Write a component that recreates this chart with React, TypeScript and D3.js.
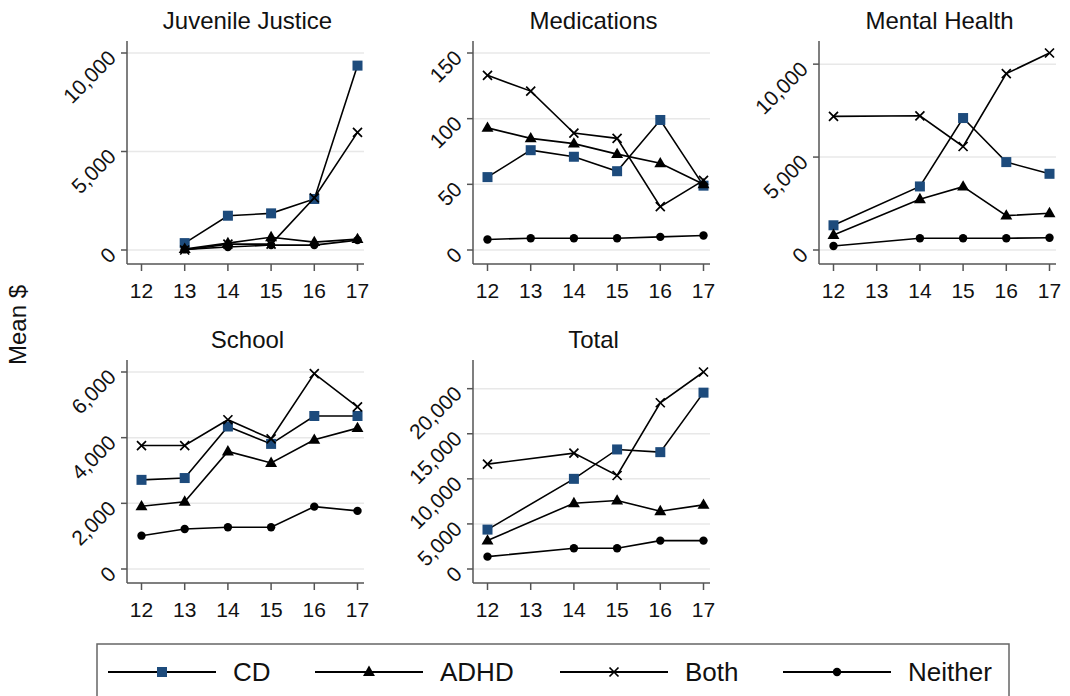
import { useEffect, useRef } from "react";
import * as d3 from "d3";

// ages on the x axis
const ages = [12, 13, 14, 15, 16, 17];
const seriesNames = ["CD", "ADHD", "Both", "Neither"];

// Juvenile Justice
const jjCD = [null, 350, 1740, 1860, 2590, 9360];
const jjADHD = [null, 50, 350, 650, 400, 550];
const jjBoth = [null, 0, 300, 300, 2650, 5970];
const jjNeither = [null, 30, 150, 250, 250, 500];
const jjTicks = [0, 5000, 10000];

// Medications
const medCD = [55.5, 76, 71, 60, 99, 49];
const medADHD = [93, 85, 81, 73, 66, 50];
const medBoth = [133, 121, 89, 85, 33, 53];
const medNeither = [8, 9, 9, 9, 10, 11];
const medTicks = [0, 50, 100, 150];

// Mental Health (no age 13 values)
const mhCD = [1330, null, 3420, 7100, 4730, 4100];
const mhADHD = [810, null, 2730, 3410, 1850, 1980];
const mhBoth = [7190, null, 7220, 5570, 9490, 10600];
const mhNeither = [215, null, 630, 630, 630, 660];
const mhTicks = [0, 5000, 10000];

// School
const scCD = [2715, 2770, 4340, 3810, 4660, 4660];
const scADHD = [1910, 2050, 3580, 3230, 3935, 4290];
const scBoth = [3760, 3760, 4545, 3965, 5950, 4940];
const scNeither = [1015, 1220, 1270, 1270, 1900, 1770];
const scTicks = [0, 2000, 4000, 6000];

// Total (no age 13 values)
const totCD = [4370, null, 10000, 13260, 12960, 19560];
const totADHD = [3150, null, 7300, 7590, 6410, 7110];
const totBoth = [11630, null, 12850, 10370, 18440, 21850];
const totNeither = [1370, null, 2300, 2300, 3150, 3150];
const totTicks = [0, 5000, 10000, 15000, 20000];

const panels = [
    { title: "Juvenile Justice", series: [jjCD, jjADHD, jjBoth, jjNeither], ticks: jjTicks, col: 0, row: 0 },
    { title: "Medications", series: [medCD, medADHD, medBoth, medNeither], ticks: medTicks, col: 1, row: 0 },
    { title: "Mental Health", series: [mhCD, mhADHD, mhBoth, mhNeither], ticks: mhTicks, col: 2, row: 0 },
    { title: "School", series: [scCD, scADHD, scBoth, scNeither], ticks: scTicks, col: 0, row: 1 },
    { title: "Total", series: [totCD, totADHD, totBoth, totNeither], ticks: totTicks, col: 1, row: 1 },
];

const FONT = "'Liberation Sans', Arial, Helvetica, sans-serif";
const BLUE = "#1d4b7c";

const App = () => {
    const chartRef = useRef<SVGSVGElement>(null);

    useEffect(() => {
        const svg = d3.select(chartRef.current);
        svg.selectAll("*").remove();

        const width = 1070;
        const height = 696;
        const colLeft = [127, 473, 819];
        const rowTop = [41, 360];
        const plotW = 237;
        const plotH = 223;

        svg.attr("width", width).attr("height", height).style("font-family", FONT);
        svg.append("rect").attr("width", width).attr("height", height).attr("fill", "#fff");

        // draws a marker of a series at (x, y)
        const drawMarker = (g, kind, x, y) => {
            if (kind === 0) {
                g.append("rect").attr("x", x - 5).attr("y", y - 5).attr("width", 10).attr("height", 10)
                    .attr("fill", BLUE);
            } else if (kind === 1) {
                g.append("path").attr("d", d3.symbol(d3.symbolTriangle, 62)()).attr("transform", `translate(${x},${y + 0.5})`)
                    .attr("fill", "#000");
            } else if (kind === 2) {
                g.append("path").attr("d", `M${x - 4.5},${y - 4.5}L${x + 4.5},${y + 4.5}M${x - 4.5},${y + 4.5}L${x + 4.5},${y - 4.5}`)
                    .attr("stroke", "#000").attr("stroke-width", 1.7);
            } else {
                g.append("circle").attr("cx", x).attr("cy", y).attr("r", 4.2).attr("fill", "#000");
            }
        };

        panels.forEach((p) => {
            const left = colLeft[p.col];
            const top = rowTop[p.row];
            const bottom = top + plotH;
            const g = svg.append("g");

            const maxVal = d3.max(p.series.flat().filter((v) => v != null));
            const yMax = Math.max(maxVal, p.ticks[p.ticks.length - 1]);

            const x = d3.scaleLinear().domain([12, 17]).range([left + 14.5, left + 230.5]);
            const y = d3.scaleLinear().domain([0, yMax]).range([bottom - 14, top + 12]);

            // grid lines
            g.selectAll("line.grid").data(p.ticks).enter().append("line")
                .attr("x1", left).attr("x2", left + plotW)
                .attr("y1", (d) => y(d)).attr("y2", (d) => y(d))
                .attr("stroke", "#e8e8e8").attr("stroke-width", 1.5);

            // axes
            g.append("line").attr("x1", left).attr("x2", left).attr("y1", top).attr("y2", bottom)
                .attr("stroke", "#555").attr("stroke-width", 1.5);
            g.append("line").attr("x1", left).attr("x2", left + plotW).attr("y1", bottom).attr("y2", bottom)
                .attr("stroke", "#555").attr("stroke-width", 1.5);

            // y ticks
            g.selectAll("line.yt").data(p.ticks).enter().append("line")
                .attr("x1", left - 6).attr("x2", left)
                .attr("y1", (d) => y(d)).attr("y2", (d) => y(d))
                .attr("stroke", "#555").attr("stroke-width", 1.5);
            g.selectAll("text.yt").data(p.ticks).enter().append("text")
                .attr("transform", (d) => `translate(${left - 15},${y(d) + 1}) rotate(-45)`)
                .attr("text-anchor", "end").attr("dominant-baseline", "central")
                .attr("font-size", 21).attr("fill", "#111")
                .text((d) => d3.format(",")(d));

            // x ticks
            g.selectAll("line.xt").data(ages).enter().append("line")
                .attr("x1", (d) => x(d)).attr("x2", (d) => x(d))
                .attr("y1", bottom).attr("y2", bottom + 7)
                .attr("stroke", "#555").attr("stroke-width", 1.5);
            g.selectAll("text.xt").data(ages).enter().append("text")
                .attr("x", (d) => x(d)).attr("y", bottom + 34)
                .attr("text-anchor", "middle").attr("font-size", 21).attr("fill", "#111")
                .text((d) => d);

            // title
            g.append("text").attr("x", left + plotW / 2 + 2).attr("y", top - 12)
                .attr("text-anchor", "middle").attr("font-size", 24).attr("fill", "#111")
                .text(p.title);

            // series lines and markers
            const line = d3.line().x((d) => x(d[0])).y((d) => y(d[1]));
            p.series.forEach((vals, si) => {
                const pts = ages.map((a, i) => [a, vals[i]]).filter((d) => d[1] != null);
                g.append("path").attr("d", line(pts)).attr("fill", "none")
                    .attr("stroke", "#000").attr("stroke-width", 1.6);
                pts.forEach((d) => drawMarker(g, si, x(d[0]), y(d[1])));
            });
        });

        // y axis label
        svg.append("text").attr("transform", "translate(26,325) rotate(-90)")
            .attr("text-anchor", "middle").attr("font-size", 24).attr("fill", "#111")
            .text("Mean $");

        // legend
        const lg = svg.append("g");
        lg.append("rect").attr("x", 97).attr("y", 644).attr("width", 912).attr("height", 70)
            .attr("fill", "none").attr("stroke", "#666").attr("stroke-width", 1.5);
        const legendX = [108, 315, 560, 783];
        const ly = 672;
        seriesNames.forEach((name, i) => {
            const lx = legendX[i];
            lg.append("line").attr("x1", lx).attr("x2", lx + 108).attr("y1", ly).attr("y2", ly)
                .attr("stroke", "#000").attr("stroke-width", 2);
            drawMarker(lg, i, lx + 54, ly);
            lg.append("text").attr("x", lx + 125).attr("y", ly).attr("dominant-baseline", "central")
                .attr("font-size", 26).attr("fill", "#111").text(name);
        });
    }, []);

    return (
        <div style={{ position: "absolute", left: 0, top: 0 }}>
            <svg ref={chartRef} style={{ display: "block" }}></svg>
        </div>
    );
};

export default App;
